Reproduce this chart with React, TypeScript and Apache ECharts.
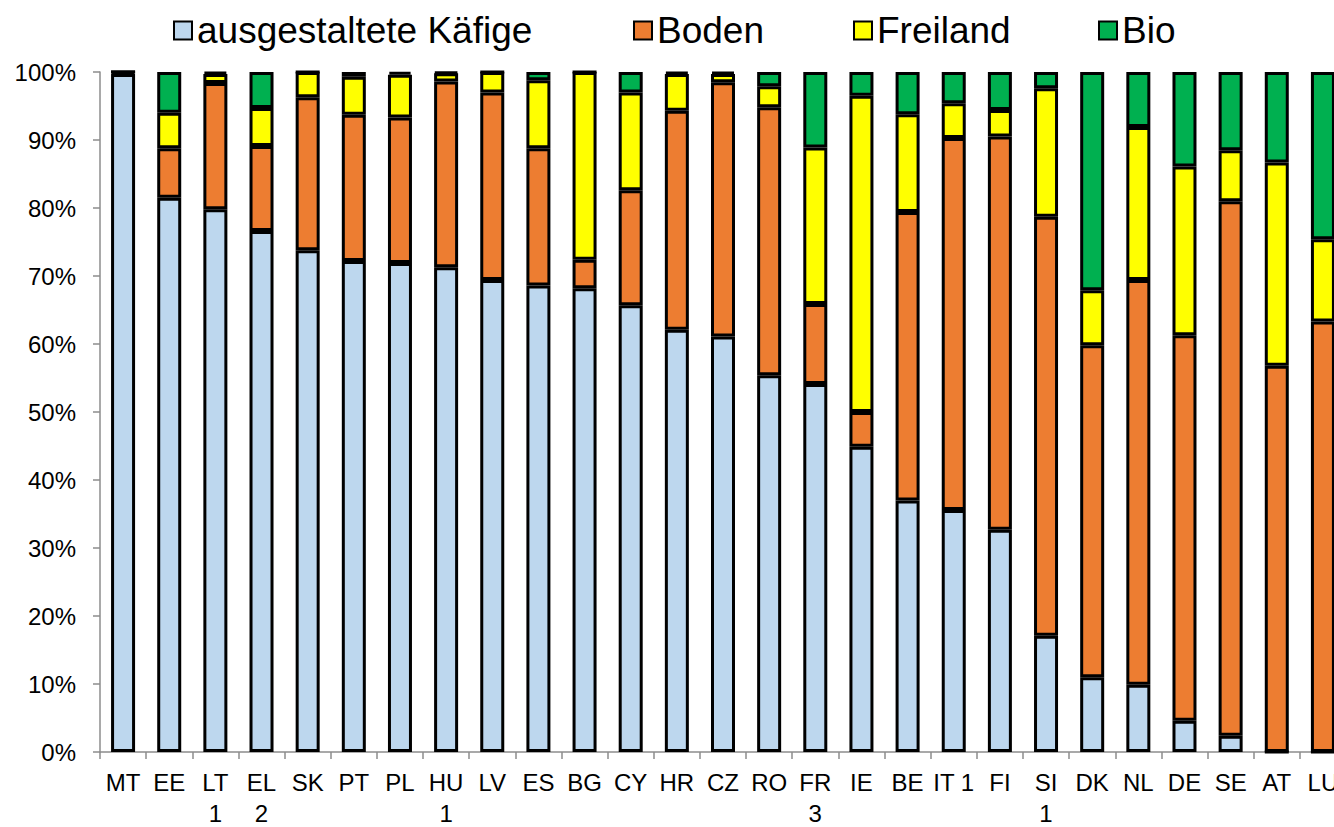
import React, { useEffect, useRef } from "react";
import * as echarts from "echarts";

const categories = ["MT","EE","LT\n1","EL\n2","SK","PT","PL","HU\n1","LV","ES","BG","CY","HR","CZ","RO","FR\n3","IE","BE","IT 1","FI","SI\n1","DK","NL","DE","SE","AT","LU"];
const seriesNames = ["ausgestaltete Käfige", "Boden", "Freiland", "Bio"];
const cage = [99.7, 81.5, 79.8, 76.6, 73.8, 72.2, 71.9, 71.3, 69.4, 68.6, 68.2, 65.7, 62.1, 61.1, 55.4, 54.1, 44.9, 37.0, 35.6, 32.7, 17.1, 11.0, 9.9, 4.6, 2.4, 0, 0];
const boden = [0.3, 7.3, 18.6, 12.5, 22.5, 21.5, 21.4, 27.3, 27.6, 20.2, 4.2, 16.9, 32.2, 37.4, 39.4, 11.8, 5.1, 42.4, 54.7, 57.8, 61.6, 48.8, 59.5, 56.7, 78.6, 56.8, 63.3];
const freiland = [0, 5.2, 1.3, 5.6, 3.7, 5.6, 6.3, 1.2, 3.0, 10.0, 27.6, 14.4, 5.4, 1.2, 3.1, 23.0, 46.5, 14.4, 5.1, 3.9, 18.9, 8.1, 22.5, 24.8, 7.5, 29.9, 12.1];
const bio = [0, 6.0, 0.3, 5.3, 0, 0.7, 0.4, 0.2, 0, 1.2, 0, 3.0, 0.3, 0.3, 2.1, 11.1, 3.5, 6.2, 4.6, 5.6, 2.4, 32.1, 8.1, 13.9, 11.5, 13.3, 24.6];
const colors = ["#BDD7EE", "#ED7D31", "#FFFF00", "#00B050"];
const legendLefts = [168, 628, 848, 1093];

export default function App() {
  const ref = useRef<HTMLDivElement>(null);
  useEffect(() => {
    if (!ref.current) return;
    const chart = echarts.init(ref.current, null, { renderer: "svg" });
    const values = [cage, boden, freiland, bio];
    const font = "'Liberation Sans', Arial, sans-serif";
    chart.setOption({
      animation: false,
      legend: seriesNames.map((n, i) => ({
        data: [n],
        left: legendLefts[i],
        top: 7,
        itemWidth: 18,
        itemHeight: 18,
        icon: "rect",
        textStyle: { fontSize: 37, color: "#000", fontFamily: font },
        selectedMode: false,
      })),
      grid: { left: 100, top: 72, width: 1246, height: 680, containLabel: false, outerBoundsMode: "none" },
      xAxis: {
        type: "category",
        data: categories,
        axisLine: { lineStyle: { color: "#8c8c8c", width: 1.5 } },
        axisTick: { show: true, length: 7, lineStyle: { color: "#8c8c8c", width: 1.5 } },
        axisLabel: {
          interval: 0,
          fontSize: 24,
          lineHeight: 31,
          margin: 15,
          color: "#000",
          fontFamily: font,
        },
      },
      yAxis: {
        type: "value",
        min: 0,
        max: 100,
        interval: 10,
        splitLine: { show: false },
        axisLine: { show: true, lineStyle: { color: "#8c8c8c", width: 1.5 } },
        axisTick: { show: true, length: 7, lineStyle: { color: "#8c8c8c", width: 1.5 } },
        axisLabel: {
          formatter: "{value}%",
          fontSize: 24,
          margin: 24,
          color: "#000",
          fontFamily: font,
        },
      },
      series: seriesNames.map((n, i) => ({
        name: n,
        type: "bar",
        stack: "total",
        barWidth: 24,
        data: values[i],
        itemStyle: { color: colors[i], borderColor: "#000", borderWidth: 3 },
      })),
    });
    return () => chart.dispose();
  }, []);
  return (
    <div style={{ position: "fixed", left: 0, top: 0, width: 1334, height: 827, overflow: "hidden", background: "#fff" }}>
      <div ref={ref} style={{ width: 1370, height: 827 }} />
    </div>
  );
}
